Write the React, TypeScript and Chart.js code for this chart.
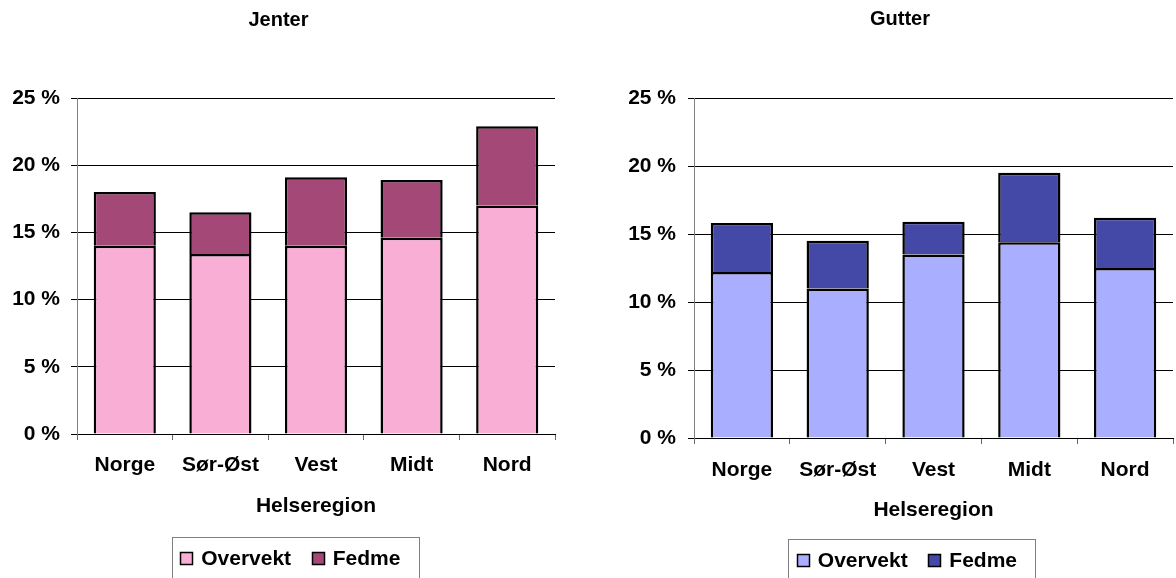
import React, { useEffect, useRef } from 'react';
import { Chart, registerables } from 'chart.js';

Chart.register(...registerables);

const categories = ['Norge', 'Sør-Øst', 'Vest', 'Midt', 'Nord'];
const seriesLabels = ['Overvekt', 'Fedme'];
const jenterOvervekt = [14.0, 13.4, 14.0, 14.6, 17.0];
const jenterFedme = [4.0, 3.1, 5.1, 4.3, 5.9];
const gutterOvervekt = [12.2, 11.0, 13.5, 14.4, 12.5];
const gutterFedme = [3.6, 3.5, 2.4, 5.1, 3.7];
const yTicks = [0, 5, 10, 15, 20, 25];

const FONT = '"Liberation Sans", Arial, sans-serif';
const FS = 21;

const decorPlugin = {
  id: 'decor',
  afterDraw(chart: any, _args: any, opts: any) {
    const ctx = chart.ctx as CanvasRenderingContext2D;
    ctx.save();
    ctx.font = `bold ${FS - 1}px ${FONT}`;
    ctx.fillStyle = '#000';
    ctx.textAlign = 'center';
    ctx.textBaseline = 'middle';
    ctx.fillText(opts.title, opts.titleX, opts.titleY);

    ctx.font = `bold ${FS}px ${FONT}`;
    ctx.strokeStyle = '#808080';
    ctx.lineWidth = 1;
    ctx.strokeRect(Math.round(opts.legendX) + 0.5, Math.round(opts.legendY) + 0.5, opts.legendW, 80);

    const sq = 12;
    chart.data.datasets.forEach((ds: any, i: number) => {
      const sx = Math.round(opts.legendX + opts.squareOffsets[i]);
      const sy = Math.round(opts.legendY + 14.4);
      ctx.fillStyle = ds.backgroundColor;
      ctx.fillRect(sx, sy, sq, sq);
      ctx.strokeStyle = '#000';
      ctx.lineWidth = 1.5;
      ctx.strokeRect(sx + 0.5, sy + 0.5, sq, sq);
      ctx.fillStyle = '#000';
      ctx.textAlign = 'left';
      ctx.textBaseline = 'middle';
      ctx.fillText(ds.label, opts.legendX + opts.textOffsets[i], sy + 7);
    });
    ctx.restore();
  },
};

type Cfg = {
  title: string;
  titleX: number;
  titleY: number;
  over: number[];
  fedme: number[];
  colors: [string, string];
  yWidth: number;
  padRight: number;
  xHeight: number;
  tickPad: number;
  yPad: number;
  titleBottom: number;
  legendX: number;
  legendY: number;
};

function makeConfig(c: Cfg): any {
  const font = { family: FONT, size: FS, weight: 'bold' as const };
  const barStyle = {
    borderColor: '#000',
    borderWidth: 2.5,
    barPercentage: 0.65,
    categoryPercentage: 1,
  };
  return {
    type: 'bar',
    data: {
      labels: categories,
      datasets: [
        { label: seriesLabels[0], data: c.over, backgroundColor: c.colors[0], ...barStyle },
        { label: seriesLabels[1], data: c.fedme, backgroundColor: c.colors[1], ...barStyle },
      ],
    },
    options: {
      responsive: false,
      animation: false,
      devicePixelRatio: 1,
      layout: { padding: { left: 0, top: 98, right: c.padRight, bottom: 0 } },
      plugins: {
        legend: { display: false },
        title: { display: false },
        tooltip: { enabled: false },
        decor: {
          title: c.title,
          titleX: c.titleX,
          titleY: c.titleY,
          legendX: c.legendX,
          legendY: c.legendY,
          legendW: 247,
          squareOffsets: [8.3, 140],
          textOffsets: [29.5, 161],
        },
      },
      scales: {
        x: {
          stacked: true,
          offset: true,
          grid: {
            display: true,
            drawOnChartArea: false,
            drawTicks: true,
            tickLength: 6,
            color: '#666',
            offset: true,
          },
          border: { display: true, color: '#000', width: 1 },
          ticks: {
            padding: c.tickPad,
            font,
            color: '#000',
            maxRotation: 0,
            autoSkip: false,
          },
          title: {
            display: true,
            text: 'Helseregion',
            font,
            color: '#000',
            padding: { top: 0, bottom: c.titleBottom },
          },
          afterFit: (s: any) => {
            s.height = c.xHeight;
          },
        },
        y: {
          stacked: true,
          min: 0,
          max: 25,
          afterBuildTicks: (s: any) => {
            s.ticks = yTicks.map((v) => ({ value: v }));
          },
          ticks: {
            callback: (v: any) => `${v} %`,
            padding: c.yPad,
            font,
            color: '#000',
          },
          grid: { color: '#000', tickLength: 6, drawTicks: true, lineWidth: 1 },
          border: { display: true, color: '#808080', width: 1 },
          afterFit: (s: any) => {
            s.width = c.yWidth;
          },
        },
      },
    },
    plugins: [decorPlugin],
  };
}

function BarChart({ cfg, width, height }: { cfg: Cfg; width: number; height: number }) {
  const ref = useRef<HTMLCanvasElement | null>(null);
  useEffect(() => {
    if (!ref.current) return;
    const chart = new Chart(ref.current, makeConfig(cfg));
    return () => chart.destroy();
  }, [cfg]);
  return <canvas ref={ref} width={width} height={height} style={{ width, height, display: 'block' }} />;
}

const leftCfg: Cfg = {
  title: 'Jenter',
  titleX: 278.5,
  titleY: 20,
  over: jenterOvervekt,
  fedme: jenterFedme,
  colors: ['#F9AED5', '#A44878'],
  yWidth: 77,
  padRight: 33,
  xHeight: 144,
  tickPad: 13,
  yPad: 11,
  titleBottom: 59,
  legendX: 171.7,
  legendY: 537.3,
};

const rightCfg: Cfg = {
  title: 'Gutter',
  titleX: 312,
  titleY: 19.5,
  over: gutterOvervekt,
  fedme: gutterFedme,
  colors: ['#AAAEFF', '#4449A8'],
  yWidth: 106,
  padRight: 3,
  xHeight: 140,
  tickPad: 14,
  yPad: 12,
  titleBottom: 55,
  legendX: 200.3,
  legendY: 539.3,
};

export default function App() {
  return (
    <div style={{ position: 'fixed', left: 0, top: 0, width: 1176, height: 578, background: '#fff', overflow: 'hidden' }}>
      <div style={{ position: 'absolute', left: 0, top: 0 }}>
        <BarChart cfg={leftCfg} width={588} height={578} />
      </div>
      <div style={{ position: 'absolute', left: 588, top: 0 }}>
        <BarChart cfg={rightCfg} width={588} height={578} />
      </div>
    </div>
  );
}
